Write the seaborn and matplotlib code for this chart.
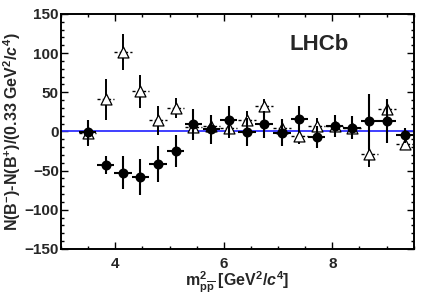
import numpy as np
import pandas as pd
import matplotlib
matplotlib.use("Agg")
import matplotlib.pyplot as plt
import seaborn as sns
from matplotlib.ticker import MultipleLocator

# m^2(p pbar) bin centres [GeV^2/c^4]
m2_bins = [3.49, 3.82, 4.14, 4.46, 4.79, 5.11, 5.44, 5.77, 6.09, 6.43,
           6.74, 7.07, 7.39, 7.71, 8.04, 8.36, 8.68, 9.01, 9.34]
half_width = 0.16

# filled circles
diff_circ = [-1, -43, -53, -58, -42, -25, 9, 2.5, 14, -1,
             9, -1.5, 16, -7, 7, 5, 13, 13, -5]
err_circ = [16, 12, 21, 23, 23, 21, 20, 19, 18, 18,
            17, 17, 16, 14, 14, 15, 35, 28, 10]

# open triangles
diff_tri = [-2, 41, 101, 51, 14, 30, 6, 7, 4, 15,
            32, 5, -6, 7, 7, 4, -29, 29, -16]
err_tri = [16, 26, 23, 21, 18, 13, 10, 12, 12, 11,
           10, 10, 10, 10, 10, 12, 17, 13, 8]

circ = pd.DataFrame({"m2": m2_bins, "diff": diff_circ, "err": err_circ})
tri = pd.DataFrame({"m2": m2_bins, "diff": diff_tri, "err": err_tri})

sns.set_style("ticks")
plt.rcParams["font.family"] = ["Liberation Sans", "DejaVu Sans"]
plt.rcParams["font.weight"] = "bold"
plt.rcParams["mathtext.fontset"] = "custom"
plt.rcParams["mathtext.rm"] = "Liberation Sans:bold"
plt.rcParams["mathtext.it"] = "Liberation Sans:bold:italic"
plt.rcParams["mathtext.bf"] = "Liberation Sans:bold"

fig = plt.figure(figsize=(4.36, 2.97), dpi=100)
ax = fig.add_axes([0.140, 0.162, 0.809, 0.791])

ax.axhline(0, color="#3030ff", lw=1.3, zorder=1)

# triangles: error bars with dashed horizontal part
eb = ax.errorbar(tri["m2"], tri["diff"], xerr=half_width, yerr=tri["err"],
                 fmt="none", ecolor="black", elinewidth=1.4, capsize=0, zorder=2)
eb.lines[2][0].set_linestyle((0, (2.2, 1.6)))
eb.lines[2][0].set_linewidth(1.0)
sns.scatterplot(data=tri, x="m2", y="diff", marker="^", s=62, color="white",
                edgecolor="black", linewidth=0.9, ax=ax, zorder=3)

# circles
ax.errorbar(circ["m2"], circ["diff"], xerr=half_width, yerr=circ["err"],
            fmt="none", ecolor="black", elinewidth=1.5, capsize=0, zorder=4)
sns.scatterplot(data=circ, x="m2", y="diff", marker="o", s=52, color="black",
                edgecolor="black", linewidth=0, ax=ax, zorder=5)

ax.set_xlim(3.0, 9.5)
ax.set_ylim(-150, 150)
ax.xaxis.set_major_locator(MultipleLocator(2))
ax.xaxis.set_minor_locator(MultipleLocator(0.5))
ax.yaxis.set_major_locator(MultipleLocator(50))
ax.yaxis.set_minor_locator(MultipleLocator(10))
ax.tick_params(which="both", direction="in", top=True, right=True,
               width=1.0, color="black", labelsize=11)
ax.tick_params(which="major", length=5)
ax.tick_params(which="minor", length=2.5)
ax.tick_params(axis="y", pad=1.5)
ax.tick_params(axis="x", pad=6)
for sp in ax.spines.values():
    sp.set_linewidth(1.4)
    sp.set_color("black")

ax.set_xlabel(r"m$^{2}_{\mathrm{p\overline{p}}}$ [GeV$^{2}$/$\mathit{c}^{4}$]",
              fontsize=11.5, fontweight="bold")
ax.xaxis.set_label_coords(0.5, -0.09)
ax.set_ylabel(r"N(B$^{-}$)-N(B$^{+}$)/(0.33 GeV$^{2}$/$\mathit{c}^{4}$)",
              fontsize=11.5, fontweight="bold", labelpad=1)
ax.text(0.649, 0.868, "LHCb", transform=ax.transAxes, fontsize=16,
        fontweight="bold", va="center", ha="left")

fig.savefig("out.png", dpi=100)
